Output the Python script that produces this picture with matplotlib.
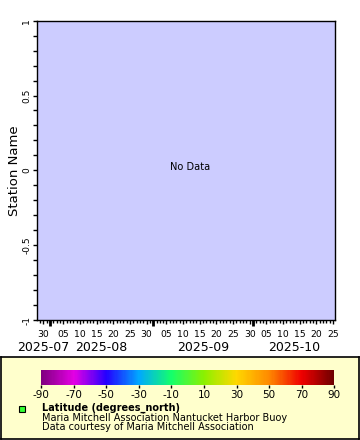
import matplotlib
matplotlib.use("Agg")
import matplotlib.dates as mdates
import matplotlib.pyplot as plt
import numpy as np
import pandas as pd
from matplotlib.cm import ScalarMappable
from matplotlib.colors import LinearSegmentedColormap, Normalize
from matplotlib.lines import Line2D
from matplotlib.transforms import blended_transform_factory

W, H = 360, 440

TIME_START = "2025-07-28 02:10"
TIME_END   = "2025-10-25 15:20"
Y_RANGE    = (-1, 1)
Y_TICKS    = [-1, -0.5, 0, 0.5, 1]
Y_LABELS   = ["-1", "-0.5", "0", "0.5", "1"]
DAY_LABELS = [5, 10, 15, 20, 25, 30]

CB_RANGE  = (-90, 90)
CB_TICKS  = [-90, -70, -50, -30, -10, 10, 30, 50, 70, 90]
CB_COLORS = ["#7f007f", "#e400e4", "#2400ff", "#00a8ff", "#14ff6a",
             "#8cf000", "#ffd800", "#ff8a00", "#f00000", "#6e0000"]

Y_TITLE     = "Station Name"
VAR_TITLE   = "Latitude (degrees_north)"
SOURCE_LINE = "Maria Mitchell Association Nantucket Harbor Buoy"
CREDIT_LINE = "Data courtesy of Maria Mitchell Association"

plt.rcParams["font.family"] = "DejaVu Sans"
plt.rcParams["axes.unicode_minus"] = False


def box(x0, y0, x1, y1):
    # pixel box (top-left origin) -> figure fractions
    return [x0 / W, 1 - y1 / H, (x1 - x0) / W, (y1 - y0) / H]


def pt(x, y):
    return x / W, 1 - y / H


fig = plt.figure(figsize=(W / 100, H / 100), dpi=100)
fig.patch.set_facecolor("white")

# ── main plot ────────────────────────────────────────────────────────────────
ax = fig.add_axes(box(37, 20.7, 335, 320))
ax.set_facecolor("#ccccff")
t0, t1 = pd.Timestamp(TIME_START), pd.Timestamp(TIME_END)
ax.set_xlim(t0, t1)
ax.set_ylim(*Y_RANGE)

ax.set_yticks(Y_TICKS)
ax.set_yticklabels(Y_LABELS, rotation=90, va="center", fontsize=6.5)
ax.set_yticks(np.arange(-1, 1.01, 0.1), minor=True)
ax.tick_params(axis="y", which="major", direction="out", length=3, width=1, pad=1)
ax.tick_params(axis="y", which="minor", direction="out", length=3, width=1)

ax.xaxis.set_major_locator(mdates.DayLocator(bymonthday=DAY_LABELS))
ax.xaxis.set_major_formatter(mdates.DateFormatter("%d"))
ax.xaxis.set_minor_locator(mdates.DayLocator())
ax.tick_params(axis="x", which="major", direction="out", length=3, width=1,
               pad=4, labelsize=6.7)
ax.tick_params(axis="x", which="minor", direction="out", length=2, width=1)

sec = ax.secondary_xaxis("bottom")
sec.xaxis.set_major_locator(mdates.MonthLocator())
sec.tick_params(axis="x", direction="out", length=4, width=2, labelbottom=False)
sec.spines["bottom"].set_visible(False)

for s in ax.spines.values():
    s.set_linewidth(1)

ax.set_ylabel(Y_TITLE, fontsize=9.5, labelpad=1)
ax.text(0.513, 0.512, "No Data", transform=ax.transAxes, ha="center",
        va="center", fontsize=7.1)

# year-month labels centered on visible part of each month
trans = blended_transform_factory(ax.transData, ax.transAxes)
months = pd.date_range(t0.to_period("M").to_timestamp(), t1, freq="MS")
for m in months:
    lo = max(m, t0)
    hi = min(m + pd.offsets.MonthBegin(1), t1)
    mid = lo + (hi - lo) / 2
    ax.text(mdates.date2num(mid), -0.091, m.strftime("%Y-%m"), transform=trans,
            ha="center", va="center", fontsize=9)

# ── legend panel ─────────────────────────────────────────────────────────────
leg = fig.add_axes(box(1, 357, 359, 439))
leg.set_facecolor("#ffffcc")
leg.set_xticks([])
leg.set_yticks([])
for s in leg.spines.values():
    s.set_linewidth(1.2)

cmap = LinearSegmentedColormap.from_list("rainbow2", CB_COLORS)
cax = fig.add_axes(box(41, 370, 334.3, 384.7))
cb = fig.colorbar(ScalarMappable(Normalize(*CB_RANGE), cmap), cax=cax,
                  orientation="horizontal")
cb.outline.set_visible(False)
cb.set_ticks(CB_TICKS)
cb.ax.tick_params(length=2, width=1, pad=1.5, labelsize=7.5)

fig.add_artist(Line2D([pt(21.7, 0)[0]], [pt(0, 409.3)[1]], marker="s",
                      markersize=4, markerfacecolor="#33ff33",
                      markeredgecolor="black", markeredgewidth=0.8,
                      transform=fig.transFigure))
fig.text(*pt(42, 408.3), VAR_TITLE, fontsize=7, fontweight="bold", va="center")
fig.text(*pt(42, 417.7), SOURCE_LINE, fontsize=7, va="center")
fig.text(*pt(42, 426.5), CREDIT_LINE, fontsize=7, va="center")

fig.savefig("out.png", dpi=100)
